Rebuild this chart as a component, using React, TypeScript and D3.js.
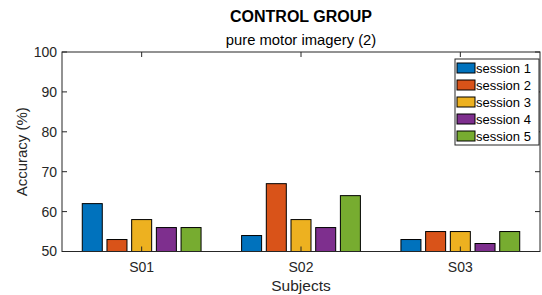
import React, { useEffect, useRef } from 'react';
import * as d3 from 'd3';

const subjects = ['S01', 'S02', 'S03'];
const sessions = ['session 1', 'session 2', 'session 3', 'session 4', 'session 5'];
const colors = ['#0072BD', '#D95319', '#EDB120', '#7E2F8E', '#77AC30'];
// accuracy per subject, one value per session
const s01 = [62, 53, 58, 56, 56];
const s02 = [54, 67, 58, 56, 64];
const s03 = [53, 55, 55, 52, 55];
const values = [s01, s02, s03];
const yTicks = [50, 60, 70, 80, 90, 100];

const W = 542;
const H = 295;
const FONT = 'Liberation Sans, Arial, Helvetica, sans-serif';

const App: React.FC = () => {
    const svgRef = useRef<SVGSVGElement>(null);

    useEffect(() => {
        const svg = d3.select(svgRef.current);
        svg.selectAll('*').remove();

        const left = 62, right = 540, top = 52, bottom = 251.5;

        const x = d3.scaleLinear().domain([0.5, 3.5]).range([left, right]);
        const y = d3.scaleLinear().domain([50, 100]).range([bottom, top]);
        const pitch = x(1) - x(0.845);
        const bw = 20;
        const axisColor = '#262626';

        // bars
        const groups = svg.append('g')
            .selectAll('g')
            .data(values)
            .enter()
            .append('g');

        groups.selectAll('rect')
            .data((d, i) => d.map((v, j) => ({ v, j, i })))
            .enter()
            .append('rect')
            .attr('x', d => x(d.i + 1) + (d.j - 2) * pitch - bw / 2)
            .attr('y', d => y(d.v))
            .attr('width', bw)
            .attr('height', d => y(50) - y(d.v))
            .attr('fill', d => colors[d.j])
            .attr('stroke', '#000')
            .attr('stroke-width', 1);

        // box
        svg.append('rect')
            .attr('x', left)
            .attr('y', top)
            .attr('width', right - left)
            .attr('height', bottom - top)
            .attr('fill', 'none')
            .attr('stroke', axisColor)
            .attr('stroke-width', 1);

        // y ticks (inward, both sides)
        yTicks.forEach(t => {
            svg.append('line')
                .attr('x1', left).attr('x2', left + 5)
                .attr('y1', y(t)).attr('y2', y(t))
                .attr('stroke', axisColor);
            svg.append('line')
                .attr('x1', right).attr('x2', right - 5)
                .attr('y1', y(t)).attr('y2', y(t))
                .attr('stroke', axisColor);
            svg.append('text')
                .attr('x', left - 5)
                .attr('y', y(t))
                .attr('dy', '0.35em')
                .attr('text-anchor', 'end')
                .style('font-family', FONT)
                .style('font-size', '14px')
                .style('fill', axisColor)
                .text(t);
        });

        // x ticks
        subjects.forEach((s, i) => {
            const cx = x(i + 1);
            svg.append('line')
                .attr('x1', cx).attr('x2', cx)
                .attr('y1', bottom).attr('y2', bottom - 5)
                .attr('stroke', axisColor);
            svg.append('line')
                .attr('x1', cx).attr('x2', cx)
                .attr('y1', top).attr('y2', top + 5)
                .attr('stroke', axisColor);
            svg.append('text')
                .attr('x', cx)
                .attr('y', 267)
                .attr('dy', '0.35em')
                .attr('text-anchor', 'middle')
                .style('font-family', FONT)
                .style('font-size', '14px')
                .style('fill', axisColor)
                .text(s);
        });

        // labels
        svg.append('text')
            .attr('x', (left + right) / 2)
            .attr('y', 286)
            .attr('dy', '0.35em')
            .attr('text-anchor', 'middle')
            .style('font-family', FONT)
            .style('font-size', '15.5px')
            .style('fill', axisColor)
            .text('Subjects');

        svg.append('text')
            .attr('transform', `translate(22, ${(top + bottom) / 2}) rotate(-90)`)
            .attr('dy', '0.35em')
            .attr('text-anchor', 'middle')
            .style('font-family', FONT)
            .style('font-size', '15px')
            .style('fill', axisColor)
            .text('Accuracy (%)');

        svg.append('text')
            .attr('x', (left + right) / 2)
            .attr('y', 16)
            .attr('dy', '0.35em')
            .attr('text-anchor', 'middle')
            .style('font-family', FONT)
            .style('font-size', '16px')
            .style('font-weight', 'bold')
            .style('fill', '#000')
            .text('CONTROL GROUP');

        svg.append('text')
            .attr('x', (left + right) / 2)
            .attr('y', 40)
            .attr('dy', '0.35em')
            .attr('text-anchor', 'middle')
            .style('font-family', FONT)
            .style('font-size', '14.8px')
            .style('fill', '#000')
            .text('pure motor imagery (2)');

        // legend
        const lg = svg.append('g').attr('transform', 'translate(455, 59)');
        lg.append('rect')
            .attr('width', 84)
            .attr('height', 86)
            .attr('fill', '#fff')
            .attr('stroke', axisColor);

        const items = lg.selectAll('.legend-item')
            .data(sessions)
            .enter()
            .append('g')
            .attr('class', 'legend-item')
            .attr('transform', (d, i) => `translate(0, ${9 + i * 17})`);

        items.append('rect')
            .attr('x', 2)
            .attr('y', -5)
            .attr('width', 18)
            .attr('height', 10)
            .attr('fill', (d, i) => colors[i])
            .attr('stroke', '#000');

        items.append('text')
            .attr('x', 21)
            .attr('y', 0)
            .attr('dy', '0.35em')
            .style('font-family', FONT)
            .style('font-size', '13px')
            .style('fill', '#000')
            .text(d => d);
    }, []);

    return (
        <svg
            ref={svgRef}
            width={W}
            height={H}
            style={{ position: 'absolute', left: 0, top: 0, background: '#fff' }}
        />
    );
};

export default App;
